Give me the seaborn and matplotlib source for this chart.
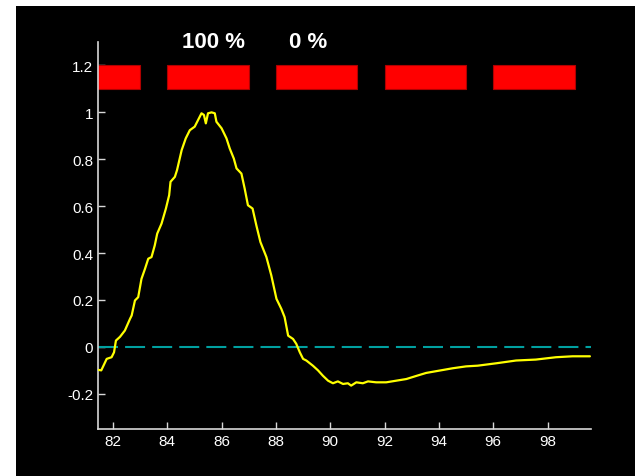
import numpy as np
import pandas as pd
import matplotlib
matplotlib.use('Agg')
import matplotlib.pyplot as plt
import seaborn as sns
from matplotlib.patches import Rectangle
from matplotlib.ticker import FuncFormatter

# Response curve.
t = [81.46, 81.57, 81.77, 81.95, 82.04, 82.11, 82.26, 82.44, 82.63, 82.69,
     82.81, 82.93, 83.05, 83.18, 83.30, 83.42, 83.54, 83.63, 83.79, 83.95,
     84.07, 84.12, 84.28, 84.36, 84.53, 84.68, 84.83, 85.01, 85.26, 85.35,
     85.42, 85.50, 85.63, 85.75, 85.81, 86.00, 86.18, 86.30, 86.45, 86.55,
     86.73, 86.85, 86.97, 87.14, 87.28, 87.43, 87.65, 87.83, 88.02, 88.20,
     88.32, 88.45, 88.63, 88.75, 88.88, 89.00, 89.12, 89.36, 89.55, 89.73,
     89.92, 90.10, 90.28, 90.47, 90.65, 90.77, 90.96, 91.20, 91.39, 91.69,
     92.06, 92.43, 92.80, 93.16, 93.53, 94.02, 94.51, 95.00, 95.43, 96.10,
     96.84, 97.57, 98.31, 98.92, 99.56]
resp = [-0.098, -0.100, -0.051, -0.044, -0.023, 0.027, 0.043, 0.070, 0.120, 0.134,
        0.198, 0.212, 0.290, 0.333, 0.376, 0.383, 0.433, 0.483, 0.526, 0.590,
        0.647, 0.704, 0.725, 0.754, 0.839, 0.889, 0.924, 0.939, 0.996, 0.989,
        0.953, 0.996, 1.000, 0.996, 0.960, 0.932, 0.889, 0.846, 0.803, 0.761,
        0.739, 0.675, 0.604, 0.590, 0.518, 0.447, 0.383, 0.305, 0.205, 0.162,
        0.127, 0.048, 0.034, 0.013, -0.023, -0.051, -0.058, -0.080, -0.100, -0.123,
        -0.144, -0.155, -0.147, -0.158, -0.155, -0.165, -0.151, -0.155, -0.147, -0.151,
        -0.151, -0.144, -0.137, -0.124, -0.111, -0.101, -0.091, -0.083, -0.080, -0.070,
        -0.058, -0.054, -0.044, -0.040, -0.040]

# Stimulus blocks (start, duration) and labels
block_start = [80, 84, 88, 92, 96]
block_len = [3, 3, 3, 3, 3]
block_low, block_high = 1.1, 1.2
labels = ['100 %', '0 %']
label_x = [85.71, 89.2]
label_y = 1.30

x_ticks = [82, 84, 86, 88, 90, 92, 94, 96, 98]
y_ticks = [-0.2, 0, 0.2, 0.4, 0.6, 0.8, 1.0, 1.2]

df = pd.DataFrame({'t': t, 'resp': resp})

sns.set_style('ticks')
plt.rcParams['font.family'] = ['Liberation Sans', 'DejaVu Sans']

fig = plt.figure(figsize=(6.35, 4.77), dpi=100, facecolor='white')
fig.patches.append(Rectangle((16 / 635, 0), 1 - 16 / 635, 470 / 477,
                             transform=fig.transFigure, facecolor='black',
                             edgecolor='none', zorder=-10))
ax = fig.add_axes([98 / 635, 47 / 477, 493 / 635, 387 / 477])
ax.set_zorder(1)
ax.set_facecolor('black')

for s, w in zip(block_start, block_len):
    ax.add_patch(Rectangle((s, block_low), w, block_high - block_low,
                           facecolor='#ff0000', edgecolor='#b00000',
                           linewidth=0.8, zorder=2))

ax.axhline(0, color='#00a0a0', lw=1.5, linestyle=(0, (9.6, 3.4)), zorder=1)
sns.lineplot(data=df, x='t', y='resp', color='#ffff00', lw=1.6,
             estimator=None, sort=True, ax=ax, zorder=3)

for txt, xx in zip(labels, label_x):
    ax.text(xx, label_y, txt, color='white', fontsize=16, fontweight='bold',
            ha='center', va='center', clip_on=False)

ax.set_xlim(81.45, 99.6)
ax.set_ylim(-0.35, 1.30)
ax.set_xticks(x_ticks)
ax.set_yticks(y_ticks)
ax.yaxis.set_major_formatter(FuncFormatter(lambda v, p: f'{v:g}'))
ax.set_xlabel('')
ax.set_ylabel('')
for side in ['top', 'right']:
    ax.spines[side].set_visible(False)
for side in ['left', 'bottom']:
    ax.spines[side].set_color('#d8d8d8')
    ax.spines[side].set_linewidth(1.2)
ax.tick_params(direction='in', length=5, width=1, colors='#d8d8d8',
               labelcolor='white', labelsize=11)

fig.savefig('out.png', dpi=100, facecolor='white')
